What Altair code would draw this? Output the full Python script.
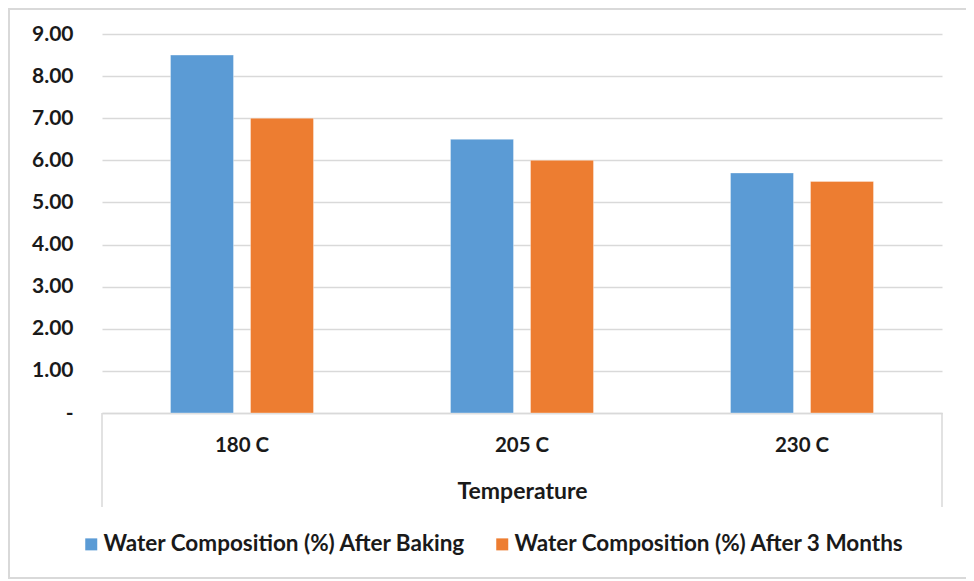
import altair as alt
import pandas as pd

categories = ["180 C", "205 C", "230 C"]
series = ["Water Composition (%) After Baking", "Water Composition (%) After 3 Months"]
after_baking = [8.50, 6.50, 5.70]
after_3_months = [7.00, 6.00, 5.50]
colors = ["#5B9BD5", "#ED7D31"]
y_ticks = [0, 1, 2, 3, 4, 5, 6, 7, 8, 9]

rows = []
for c, a, b in zip(categories, after_baking, after_3_months):
    rows.append({"Temperature": c, "Series": series[0], "Value": a})
    rows.append({"Temperature": c, "Series": series[1], "Value": b})
df = pd.DataFrame(rows)

W, H = 840, 379
FONT = "Lato"
TXT = "#1a1a1a"
GRID = "#d9d9d9"

bars = alt.Chart(df).mark_bar(stroke="#ffffff", strokeOpacity=0.35, strokeWidth=1).encode(
    x=alt.X(
        "Temperature:N",
        sort=categories,
        scale=alt.Scale(paddingInner=0, paddingOuter=0),
        axis=alt.Axis(
            title="Temperature",
            labelAngle=0,
            ticks=False,
            domain=True,
            domainColor=GRID,
            domainWidth=1.5,
            labelFont=FONT,
            labelFontSize=20.5,
            labelFontWeight="bold",
            labelColor=TXT,
            labelPadding=22,
            titleFont=FONT,
            titleFontSize=23,
            titleFontWeight="bold",
            titleColor=TXT,
            titlePadding=25,
        ),
    ),
    xOffset=alt.XOffset(
        "Series:N",
        sort=series,
        scale=alt.Scale(paddingInner=0.2125, paddingOuter=0.856),
    ),
    y=alt.Y(
        "Value:Q",
        scale=alt.Scale(domain=[0, 9], nice=False),
        axis=alt.Axis(
            title=None,
            values=y_ticks,
            labelExpr="datum.value == 0 ? '-\u2007\u2007' : format(datum.value, '.2f')",
            grid=True,
            gridColor=GRID,
            gridWidth=1.5,
            domain=False,
            ticks=False,
            labelFont=FONT,
            labelFontSize=21,
            labelFontWeight="bold",
            labelColor=TXT,
            labelPadding=29,
        ),
    ),
    color=alt.Color(
        "Series:N",
        sort=series,
        scale=alt.Scale(domain=series, range=colors),
        legend=alt.Legend(
            title=None,
            orient="none",
            direction="horizontal",
            legendX=-22,
            legendY=499,
            symbolType="square",
            symbolSize=144,
            symbolStrokeWidth=0,
            labelFont=FONT,
            labelFontSize=22.5,
            labelFontWeight="bold",
            labelColor=TXT,
            labelOffset=1,
            columnPadding=25,
            labelLimit=600,
        ),
    ),
)

sep_df = pd.DataFrame({"k": [0]})
sep_left = alt.Chart(sep_df).mark_rule(color=GRID, strokeWidth=1.5).encode(
    x=alt.value(0), y=alt.value(H), y2=alt.value(H + 94)
)
sep_right = alt.Chart(sep_df).mark_rule(color=GRID, strokeWidth=1.5).encode(
    x=alt.value(W), y=alt.value(H), y2=alt.value(H + 94)
)
border = alt.Chart(sep_df).mark_rect(filled=False, stroke=GRID, strokeWidth=2).encode(
    x=alt.value(-93), x2=alt.value(866), y=alt.value(-25), y2=alt.value(544)
)

chart = alt.layer(border, bars, sep_left, sep_right).properties(
    width=W,
    height=H,
    autosize=alt.AutoSizeParams(type="none"),
    padding={"left": 94, "top": 26, "right": 24, "bottom": 170},
    background="#ffffff",
).configure_view(stroke=None)

chart.save("out.html", embed_options={"renderer": "svg", "actions": False})
